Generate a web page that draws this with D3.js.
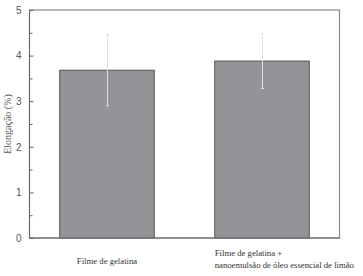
<!DOCTYPE html>
<html><head><meta charset="utf-8">
<script src="https://cdn.jsdelivr.net/npm/d3@7"></script>
<style>body{margin:0;background:#fff}svg{display:block}</style>
</head><body>
<svg id="c" width="363" height="276"></svg>
<script>
const categories = ["Filme de gelatina", "Filme de gelatina +\nnanoemulsão de óleo essencial de limão"];
const values = [3.68, 3.88];
const errors = [0.78, 0.60];
const yTicks = [0, 1, 2, 3, 4, 5];
const yTitle = "Elongação (%)";

const svg = d3.select("#c");
const m = {l: 29.5, r: 339.5, t: 10, b: 238};
const x = d3.scaleBand().domain(categories).range([m.l, m.r]).paddingInner(0.39).paddingOuter(0.195);
const y = d3.scaleLinear().domain([0, 5]).range([m.b, m.t]);

// bars
svg.selectAll("rect.bar").data(values).join("rect")
  .attr("x", (d,i) => x(categories[i]))
  .attr("y", d => y(d))
  .attr("width", x.bandwidth())
  .attr("height", d => y(0) - y(d))
  .attr("fill", "#929497").attr("stroke", "#555").attr("stroke-width", 1);

// error bars
const eb = svg.append("g").attr("stroke", "#e0e0e0").attr("stroke-width", 1);
values.forEach((v,i) => {
  const cx = Math.round(x(categories[i]) + x.bandwidth()/2) + 0.5;
  eb.append("line").attr("x1", cx).attr("x2", cx).attr("y1", y(v+errors[i])).attr("y2", y(v-errors[i]));
  [v+errors[i], v-errors[i]].forEach(e => eb.append("line").attr("x1", cx-1.5).attr("x2", cx+1.5).attr("y1", y(e)).attr("y2", y(e)));
});

// frame
svg.append("rect").attr("x", m.l).attr("y", m.t).attr("width", m.r-m.l).attr("height", m.b-m.t)
  .attr("fill", "none").attr("stroke", "#8a8a8a").attr("stroke-width", 1.2);
svg.append("line").attr("x1", m.l).attr("x2", m.r).attr("y1", m.b).attr("y2", m.b).attr("stroke", "#666").attr("stroke-width", 1.2);
svg.append("line").attr("x1", m.l).attr("x2", m.l).attr("y1", m.t).attr("y2", m.b).attr("stroke", "#666").attr("stroke-width", 1);

// y axis
const ax = svg.append("g").attr("transform", `translate(${m.l},0)`)
  .call(d3.axisLeft(y).tickValues(yTicks).tickSize(-4).tickPadding(8).tickFormat(d3.format("d")));
ax.select(".domain").remove();
ax.selectAll("line").attr("stroke", "#666");
ax.selectAll("text").attr("font-family", "Liberation Sans, Arial, sans-serif").attr("font-size", 10).attr("fill", "#555");
const minor = svg.append("g").attr("transform", `translate(${m.l},0)`)
  .call(d3.axisLeft(y).tickValues(d3.range(0.5, 5, 1)).tickSize(-3).tickFormat(""));
minor.select(".domain").remove();
minor.selectAll("line").attr("stroke", "#666");

// y title
svg.append("text").attr("transform", `translate(11,${(m.t+m.b)/2}) rotate(-90)`)
  .attr("text-anchor", "middle").attr("font-family", "Liberation Serif, Times New Roman, serif")
  .attr("font-size", 10).attr("fill", "#555").text(yTitle);

// x labels
const xl = svg.append("g").attr("font-family", "Liberation Serif, Times New Roman, serif").attr("font-size", 8.7).attr("fill", "#333");
categories.forEach((c,i) => {
  const lines = c.split("\n");
  if (lines.length === 1) {
    xl.append("text").attr("x", x(c) + x.bandwidth()/2).attr("y", 264).attr("text-anchor", "middle").text(c);
  } else {
    lines.forEach((ln,j) => xl.append("text").attr("x", x(c)).attr("y", 256 + j*12).text(ln));
  }
});
</script>
</body></html>
